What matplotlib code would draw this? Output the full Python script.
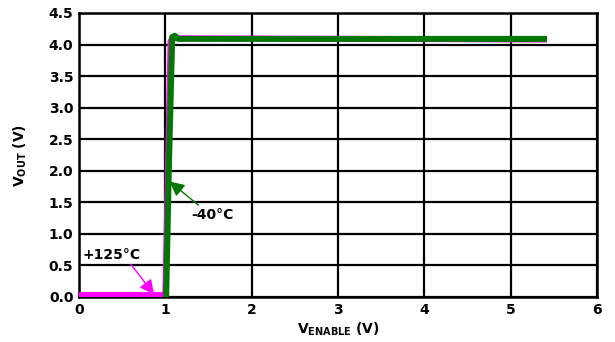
import numpy as np
import matplotlib.pyplot as plt

plt.rcParams['font.family'] = 'DejaVu Sans'
plt.rcParams['font.weight'] = 'bold'
plt.rcParams['mathtext.fontset'] = 'dejavusans'

# +125C curve
hot_x = [0.0, 0.5, 0.95, 1.0, 1.06, 1.08, 1.12, 5.42]
hot_y = [0.03, 0.03, 0.03, 0.02, 4.05, 4.1, 4.1, 4.08]
# -40C curve
cold_x = [1.01, 1.04, 1.08, 1.11, 1.15, 5.42]
cold_y = [0.0, 2.0, 4.12, 4.14, 4.09, 4.09]

xticks = [0, 1, 2, 3, 4, 5, 6]
yticks = [0.0, 0.5, 1.0, 1.5, 2.0, 2.5, 3.0, 3.5, 4.0, 4.5]

fig = plt.figure(figsize=(6.15, 3.42), dpi=100)
ax = fig.add_axes([79/615, 45/342, 518/615, 284/342])

ax.plot(hot_x, hot_y, color='#ff00ff', lw=4.3, solid_capstyle='butt', zorder=3)
ax.plot(cold_x, cold_y, color='#007700', lw=4.3, solid_capstyle='butt',
        solid_joinstyle='round', zorder=4)

ax.set_xlim(0, 6)
ax.set_ylim(0, 4.5)
ax.set_xticks(xticks)
ax.set_yticks(yticks)
ax.set_yticklabels([f'{v:.1f}' for v in yticks])
ax.grid(True, color='black', lw=1.6)
ax.tick_params(length=0, labelsize=10, pad=4)
for lab in ax.get_xticklabels() + ax.get_yticklabels():
    lab.set_fontweight('bold')
for s in ax.spines.values():
    s.set_linewidth(1.8)

ax.set_xlabel(r'V$_{\mathbf{ENABLE}}$ (V)', fontsize=10, fontweight='bold', labelpad=3)
ax.set_ylabel(r'V$_{\mathbf{OUT}}$ (V)', fontsize=10, fontweight='bold', labelpad=14)

ax.annotate('+125°C', xy=(0.87, 0.04), xytext=(0.04, 0.67), fontsize=10,
            fontweight='bold', va='center', ha='left',
            arrowprops=dict(arrowstyle='-|>', color='#ff00ff', lw=1,
                            mutation_scale=22, shrinkA=0, shrinkB=0,
                            relpos=(0.8, 0.0)), zorder=5)
ax.annotate('-40°C', xy=(1.05, 1.83), xytext=(1.3, 1.3), fontsize=10,
            fontweight='bold', va='center', ha='left',
            arrowprops=dict(arrowstyle='-|>', color='#007700', lw=1,
                            mutation_scale=22, shrinkA=0, shrinkB=0,
                            relpos=(0.25, 1.0)), zorder=5)

fig.savefig('out.png', dpi=100)
